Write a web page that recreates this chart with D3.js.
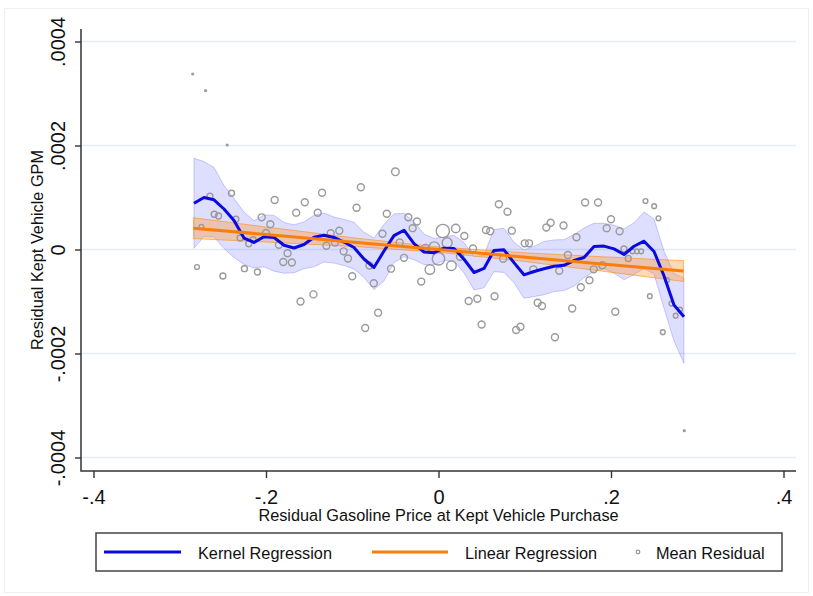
<!DOCTYPE html>
<html>
<head>
<meta charset="utf-8">
<script src="https://cdn.jsdelivr.net/npm/d3@7"></script>
<style>
  html, body { margin: 0; background: #fff; }
  svg { display: block; }
  text { font-family: "Liberation Sans", Arial, sans-serif; fill: #111; }
</style>
</head>
<body>
<svg id="chart" width="813" height="596"></svg>
<script>
// Residual values are in millionths of gallons per mile (GPM x 1e-6).

// Axis ticks
const xTicks = [-0.4, -0.2, 0, 0.2, 0.4];
const xTickLabels = ["-.4", "-.2", "0", ".2", ".4"];
const yTicks = [400, 200, 0, -200, -400];
const yTickLabels = [".0004", ".0002", "0", "-.0002", "-.0004"];

// Kernel regression: evaluation grid, fit and confidence band
const kernelX = [-0.2835, -0.2719, -0.2603, -0.2487, -0.2371, -0.2255, -0.2139, -0.2023, -0.1907, -0.1791,
  -0.1675, -0.1559, -0.1443, -0.1328, -0.1212, -0.1096, -0.0980, -0.0864, -0.0748, -0.0632,
  -0.0516, -0.0400, -0.0284, -0.0168, -0.0052, 0.0064, 0.0180, 0.0296, 0.0412, 0.0528,
  0.0643, 0.0759, 0.0875, 0.0991, 0.1107, 0.1223, 0.1339, 0.1455, 0.1571, 0.1687,
  0.1803, 0.1919, 0.2035, 0.2151, 0.2267, 0.2383, 0.2499, 0.2614, 0.2730, 0.2846];
const kernelFit = [88.8, 100, 95.6, 77.9, 55.8, 22.1, 13.5, 24.6, 23.1, 8.1,
  2.9, 9.6, 23.5, 27.5, 23.1, 14.4, 3.8, -18.3, -34.6, -2.9,
  26.7, 37.1, 11.3, -4.8, -6.2, 2.5, 2.1, -18.8, -44.2, -36.5,
  -1.9, -0.6, -25.2, -48.7, -42.3, -37.1, -32.1, -30.4, -21.2, -15.4,
  5.6, 6.5, 1.3, -9.6, 6.2, 16, -3.8, -50.4, -106.7, -129.2];
const kernelHi = [175.4, 169.2, 157.7, 123.1, 98.1, 72.1, 55.2, 66.3, 65.6, 51.9,
  47.5, 52.9, 65.8, 70.2, 62.5, 57.9, 52.3, 33.1, 22.1, 48.1,
  68.5, 69.6, 52.9, 29.8, 21.5, 23.7, 27.3, 13.3, -13.5, -10.6,
  38.7, 40.8, 13.8, -0.6, 6.0, 15.4, 18.5, 19.0, 28.7, 41.3,
  50.4, 50.4, 46.7, 39.6, 51.5, 72.1, 58.7, -2.9, -46.3, -55.4];
const kernelLo = [2.3, 25.0, 24.4, 1.7, -15.4, -28.7, -35.6, -33.3, -41.7, -45.6,
  -44.8, -36.9, -33.3, -24.0, -26.2, -30.8, -37.3, -53.7, -77.1, -60.6,
  -25.2, -14.0, -19.6, -28.8, -29.8, -21.3, -21.7, -45.0, -77.7, -73.7,
  -42.7, -44.0, -64.0, -93.7, -90.6, -87.1, -81.0, -78.8, -70.6, -54.4,
  -42.1, -36.7, -45.6, -58.1, -48.1, -36.5, -47.1, -112.5, -175.6, -218.8];

// Linear regression: fit and confidence band
const linearX = [-0.284, -0.19, -0.095, 0, 0.095, 0.19, 0.284];
const linearFit = [41.0, 27.4, 13.6, -0.2, -14.0, -27.8, -41.5];
const linearHi = [61.0, 41.2, 21.8, 4.8, -5.8, -14.0, -21.5];
const linearLo = [21.0, 13.6, 5.4, -5.2, -22.2, -41.6, -61.5];

// Binned mean residuals: bin centre, mean residual, observations in bin
const binX = [-0.285, -0.280, -0.275, -0.270, -0.265, -0.260, -0.255, -0.250, -0.245, -0.240,
  -0.235, -0.230, -0.225, -0.220, -0.215, -0.210, -0.205, -0.200, -0.195, -0.190,
  -0.185, -0.180, -0.175, -0.170, -0.165, -0.160, -0.155, -0.145, -0.140, -0.135,
  -0.130, -0.125, -0.120, -0.115, -0.110, -0.105, -0.100, -0.095, -0.090, -0.085,
  -0.080, -0.075, -0.070, -0.065, -0.060, -0.055, -0.050, -0.045, -0.040, -0.035,
  -0.030, -0.025, -0.020, -0.015, -0.010, -0.005, 0.000, 0.005, 0.010, 0.015,
  0.020, 0.025, 0.030, 0.035, 0.040, 0.045, 0.050, 0.055, 0.060, 0.065,
  0.070, 0.075, 0.080, 0.085, 0.090, 0.095, 0.100, 0.105, 0.110, 0.115,
  0.120, 0.125, 0.130, 0.135, 0.140, 0.145, 0.150, 0.155, 0.160, 0.165,
  0.170, 0.175, 0.180, 0.185, 0.190, 0.195, 0.200, 0.205, 0.210, 0.215,
  0.220, 0.225, 0.230, 0.235, 0.240, 0.245, 0.250, 0.255, 0.260, 0.265,
  0.270, 0.275, 0.280, 0.285];
const binMean = [337.5, -33.7, 43.8, 305.4, 102.5, 67.7, 64.4, -51.0, 201.0, 108.1,
  58.1, 22.1, -36.9, 11.0, 18.8, -43.3, 61.9, 31.7, 48.5, 95.2,
  9.2, -24.0, -7.3, -25.0, 70.8, -100.0, 90.8, -86.3, 70.8, 109.2,
  7.3, 31.3, 13.5, 36.2, -3.5, -17.3, -51.5, 80.4, 119.8, -151.0,
  -30.8, -65.0, -121.5, 30.2, 68.7, -36.9, 149.4, 13.5, -16.0, 62.1,
  41.0, 53.8, -61.7, 2.5, -38.5, 4.2, -17.9, 35.6, 13.1, -31.2,
  40.4, -13.8, 26.0, -99.0, 1.9, -94.8, -144.2, 37.5, 35.2, -89.8,
  87.1, -17.9, 72.5, 36.2, -154.8, -148.5, 11.9, 11.9, -38.1, -102.3,
  -108.6, 42.3, 51.5, -168.8, -40.8, 46.2, -10.6, -113.5, 23.5, -72.5,
  90.4, -59.0, -38.1, 90.4, -30.4, 41.0, 58.1, -119.6, 35.0, 1.0,
  -17.3, -3.5, -3.5, -3.5, 93.3, -89.8, 83.3, 60.0, -159.0, -58.7,
  -104.0, -127.3, -115.6, -348.5];
const binCount = [1, 7, 7, 1, 11, 11, 11, 11, 1, 11,
  11, 11, 11, 11, 11, 11, 15, 15, 15, 15,
  15, 15, 15, 15, 15, 15, 15, 15, 15, 15,
  15, 15, 15, 15, 15, 15, 15, 15, 15, 15,
  15, 15, 15, 15, 15, 15, 18, 15, 15, 15,
  15, 15, 15, 18, 28, 36, 48, 54, 31, 28,
  22, 16, 15, 15, 15, 15, 15, 15, 15, 15,
  15, 15, 15, 15, 15, 15, 15, 15, 15, 15,
  15, 15, 15, 15, 15, 15, 15, 15, 15, 15,
  15, 15, 15, 15, 15, 15, 15, 15, 15, 11,
  11, 7, 7, 7, 7, 7, 7, 7, 7, 7,
  7, 7, 7, 1];

const legendLabels = ["Kernel Regression", "Linear Regression", "Mean Residual"];
const xTitle = "Residual Gasoline Price at Kept Vehicle Purchase";
const yTitle = "Residual Kept Vehicle GPM";

// ---- drawing ----
const svg = d3.select("#chart");
const frame = { left: 81, right: 796, top: 29, bottom: 471 };

const x = d3.scaleLinear().domain([-0.4, 0.4]).range([93.5, 783.5]);
const y = d3.scaleLinear().domain([-400, 400]).range([457.5, 41.5]);
const r = d3.scaleSqrt().domain([0, 100]).range([0, 9]);

const BLUE = "#0a0ae0";
const ORANGE = "#fb7d0a";

// outer graph region
svg.append("rect")
  .attr("x", 4.5).attr("y", 8.5).attr("width", 804).attr("height", 584)
  .attr("fill", "#fff").attr("stroke", "#eef0f0").attr("stroke-width", 1);

// horizontal grid
svg.append("g").selectAll("line").data(yTicks).join("line")
  .attr("x1", frame.left).attr("x2", frame.right)
  .attr("y1", d => y(d)).attr("y2", d => y(d))
  .attr("stroke", "#e4eef0").attr("stroke-width", 1.6);

// confidence bands
const kernelRows = kernelX.map((v, i) => ({ x: v, fit: kernelFit[i], lo: kernelLo[i], hi: kernelHi[i] }));
const linearRows = linearX.map((v, i) => ({ x: v, fit: linearFit[i], lo: linearLo[i], hi: linearHi[i] }));

const band = d3.area().x(d => x(d.x)).y0(d => y(d.lo)).y1(d => y(d.hi));
const fitLine = d3.line().x(d => x(d.x)).y(d => y(d.fit));

svg.append("path").datum(kernelRows).attr("d", band)
  .attr("fill", "rgba(70,70,255,0.18)")
  .attr("stroke", "rgba(80,80,255,0.28)").attr("stroke-width", 1);

svg.append("path").datum(linearRows).attr("d", band)
  .attr("fill", "rgba(255,150,40,0.36)")
  .attr("stroke", "rgba(255,140,20,0.6)").attr("stroke-width", 1);

// binned mean residuals
const bins = binX.map((v, i) => ({ x: v, y: binMean[i], n: binCount[i] }));
svg.append("g").selectAll("circle").data(bins).join("circle")
  .attr("cx", d => x(d.x)).attr("cy", d => y(d.y)).attr("r", d => r(d.n))
  .attr("fill", "none").attr("stroke", "#9a9a9a").attr("stroke-width", 1.4);

// fitted lines
svg.append("path").datum(kernelRows).attr("d", fitLine)
  .attr("fill", "none").attr("stroke", BLUE).attr("stroke-width", 3)
  .attr("stroke-linejoin", "round");
svg.append("path").datum(linearRows).attr("d", fitLine)
  .attr("fill", "none").attr("stroke", ORANGE).attr("stroke-width", 3);

// axes
const yAxis = d3.axisLeft(y).tickValues(yTicks).tickSize(6)
  .tickFormat(d => yTickLabels[yTicks.indexOf(d)]);
const gy = svg.append("g").attr("transform", `translate(${frame.left},0)`).call(yAxis);
gy.select(".domain").remove();
gy.selectAll(".tick line").attr("stroke", "#333").attr("stroke-width", 1.4);
gy.selectAll(".tick text")
  .attr("x", null).attr("dy", null).attr("y", 0)
  .attr("transform", "translate(-16,0) rotate(-90)")
  .attr("text-anchor", "middle")
  .style("font-size", "20px").style("font-family", "'Liberation Sans', Arial, sans-serif").attr("fill", "#111");

const xAxis = d3.axisBottom(x).tickValues(xTicks).tickSize(7)
  .tickFormat(d => xTickLabels[xTicks.indexOf(d)]);
const gx = svg.append("g").attr("transform", `translate(0,${frame.bottom})`).call(xAxis);
gx.select(".domain").remove();
gx.selectAll(".tick line").attr("stroke", "#333").attr("stroke-width", 1.4);
gx.selectAll(".tick text")
  .attr("dy", null).attr("y", 32.5)
  .style("font-size", "20px").style("font-family", "'Liberation Sans', Arial, sans-serif").attr("fill", "#111");

svg.append("path")
  .attr("d", `M${frame.left},${frame.top}V${frame.bottom}H${frame.right}`)
  .attr("fill", "none").attr("stroke", "#333").attr("stroke-width", 1.5);

// axis titles
svg.append("text").attr("x", 438.5).attr("y", 520.5).attr("text-anchor", "middle")
  .style("font-size", "16.3px").text(xTitle);
svg.append("text").attr("transform", "translate(43,250) rotate(-90)").attr("text-anchor", "middle")
  .style("font-size", "16.3px").text(yTitle);

// legend
const lg = svg.append("g");
lg.append("rect").attr("x", 96).attr("y", 533).attr("width", 686).attr("height", 38)
  .attr("fill", "#fff").attr("stroke", "#444").attr("stroke-width", 1.5);
lg.append("line").attr("x1", 104).attr("x2", 181).attr("y1", 552).attr("y2", 552)
  .attr("stroke", BLUE).attr("stroke-width", 3);
lg.append("line").attr("x1", 372).attr("x2", 448).attr("y1", 552).attr("y2", 552)
  .attr("stroke", ORANGE).attr("stroke-width", 3);
lg.append("circle").attr("cx", 638).attr("cy", 552).attr("r", 1.8)
  .attr("fill", "none").attr("stroke", "#9a9a9a").attr("stroke-width", 1.3);
[198, 465, 656].forEach((lx, i) => {
  lg.append("text").attr("x", lx).attr("y", 558.5).style("font-size", "16.3px").text(legendLabels[i]);
});
</script>
</body>
</html>
